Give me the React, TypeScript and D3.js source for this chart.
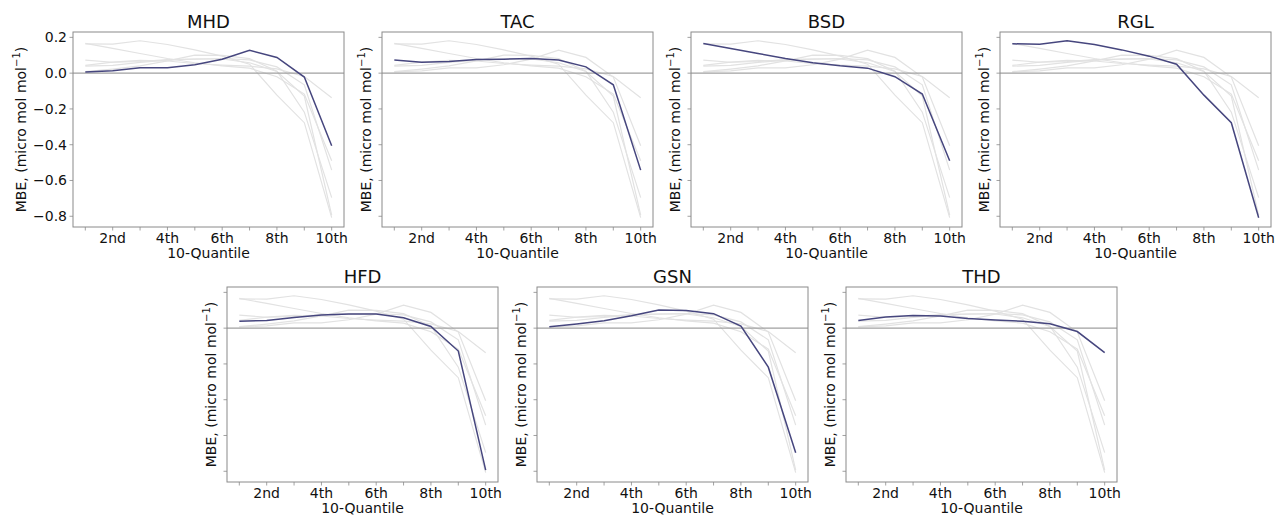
import React from 'react';
import * as d3 from 'd3';

const stations = ['MHD', 'TAC', 'BSD', 'RGL', 'HFD', 'GSN', 'THD'];
const quantiles = [1, 2, 3, 4, 5, 6, 7, 8, 9, 10];
const tickLabels = ['2nd', '4th', '6th', '8th', '10th'];
const yTicks = [0.2, 0.0, -0.2, -0.4, -0.6, -0.8];

const mhd = [0.007, 0.013, 0.03, 0.03, 0.047, 0.078, 0.128, 0.088, -0.022, -0.406];
const tac = [0.073, 0.061, 0.065, 0.076, 0.078, 0.082, 0.074, 0.035, -0.065, -0.542];
const bsd = [0.166, 0.138, 0.11, 0.082, 0.058, 0.041, 0.028, -0.02, -0.117, -0.49];
const rgl = [0.164, 0.162, 0.181, 0.16, 0.13, 0.095, 0.05, -0.123, -0.277, -0.808];
const hfd = [0.039, 0.043, 0.06, 0.073, 0.079, 0.079, 0.058, 0.009, -0.128, -0.794];
const gsn = [0.008, 0.023, 0.041, 0.069, 0.101, 0.099, 0.081, 0.011, -0.218, -0.696];
const thd = [0.043, 0.062, 0.071, 0.068, 0.054, 0.045, 0.039, 0.024, -0.019, -0.137];

const series = [mhd, tac, bsd, rgl, hfd, gsn, thd];

// panel boxes: left, top
const panels = [
  { x: 73, y: 32 },
  { x: 382, y: 32 },
  { x: 691, y: 32 },
  { x: 1000, y: 32 },
  { x: 227, y: 287 },
  { x: 537, y: 287 },
  { x: 846, y: 287 },
];
const W = 271;
const H = 195;
const FONT = 'DejaVu Sans, sans-serif';

const Panel = ({ idx }: { idx: number }) => {
  const p = panels[idx];
  const x = d3.scaleLinear().domain([0.55, 10.45]).range([0, W]);
  const y = d3.scaleLinear().domain([-0.86, 0.23]).range([H, 0]);
  const line = d3.line<number>()
    .x((_, i) => x(quantiles[i]))
    .y(d => y(d));

  return (
    <g transform={`translate(${p.x},${p.y})`} fontFamily={FONT}>
      <text x={W / 2} y={-4} textAnchor="middle" fontSize={18} fill="#111">{stations[idx]}</text>
      {series.map((s, i) => i === idx ? null : (
        <path key={i} d={line(s) || ''} fill="none" stroke="#e2e2e2" strokeWidth={1.2} />
      ))}
      <line x1={0} x2={W} y1={y(0)} y2={y(0)} stroke="#a0a0a0" strokeWidth={1.2} />
      <path d={line(series[idx]) || ''} fill="none" stroke="#46467e" strokeWidth={1.5} />
      <rect x={0} y={0} width={W} height={H} fill="none" stroke="#8a8a8a" strokeWidth={1} />
      {quantiles.map(q => (
        <line key={q} x1={x(q)} x2={x(q)} y1={H} y2={H + 3.5} stroke="#8a8a8a" strokeWidth={0.8} />
      ))}
      {tickLabels.map((t, i) => (
        <text key={t} x={x((i + 1) * 2)} y={H + 16} textAnchor="middle" fontSize={14} fill="#111">{t}</text>
      ))}
      {yTicks.map(t => (
        <g key={t}>
          <line x1={-3.5} x2={0} y1={y(t)} y2={y(t)} stroke="#8a8a8a" strokeWidth={0.8} />
          {idx === 0 && (
            <text x={-6} y={y(t) + 5} textAnchor="end" fontSize={14} fill="#111">
              {t.toFixed(1).replace('-', '\u2212')}
            </text>
          )}
        </g>
      ))}
      <text x={W / 2} y={H + 31} textAnchor="middle" fontSize={14} fill="#111">10-Quantile</text>
      <text
        transform={`translate(${idx === 0 ? -47 : -11},${H / 2}) rotate(-90)`}
        textAnchor="middle"
        fontSize={14}
        fill="#111"
      >
        MBE, (micro mol mol<tspan dy={-6} fontSize={10}>{'\u22121'}</tspan><tspan dy={6}>)</tspan>
      </text>
    </g>
  );
};

export default function App() {
  return (
    <svg width={1275} height={516} style={{ position: 'absolute', left: 0, top: 0, background: '#fff' }}>
      <rect width={1275} height={516} fill="#fff" />
      {stations.map((_, i) => <Panel key={i} idx={i} />)}
    </svg>
  );
}
